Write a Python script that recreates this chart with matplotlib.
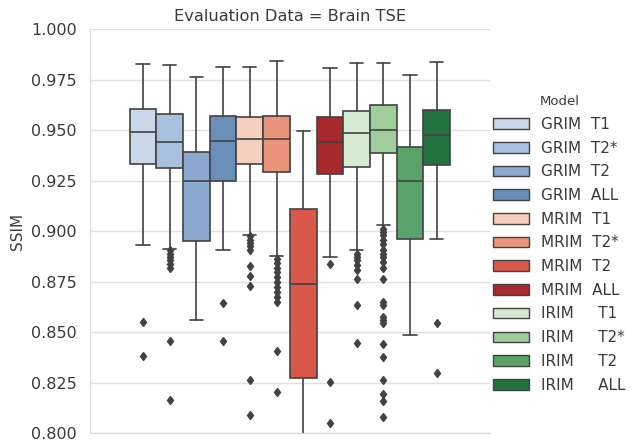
import matplotlib
matplotlib.use("Agg")
import matplotlib.pyplot as plt
from matplotlib.patches import Patch
import seaborn as sns

models = ["GRIM  T1", "GRIM  T2*", "GRIM  T2", "GRIM  ALL",
          "MRIM  T1", "MRIM  T2*", "MRIM  T2", "MRIM  ALL",
          "IRIM     T1", "IRIM     T2*", "IRIM     T2", "IRIM     ALL"]

# box statistics (SSIM)
whislo = [0.8933, 0.8911, 0.8558, 0.8908, 0.8979, 0.8877, 0.7900, 0.8870, 0.8905, 0.9030, 0.8485, 0.8959]
q1 = [0.9331, 0.9314, 0.8949, 0.9248, 0.9331, 0.9291, 0.8274, 0.9281, 0.9319, 0.9385, 0.8961, 0.9329]
med = [0.9492, 0.9440, 0.9248, 0.9446, 0.9454, 0.9454, 0.8738, 0.9441, 0.9486, 0.9502, 0.9246, 0.9478]
q3 = [0.9603, 0.9582, 0.9390, 0.9570, 0.9565, 0.9570, 0.9111, 0.9567, 0.9593, 0.9626, 0.9416, 0.9598]
whishi = [0.9829, 0.9821, 0.9763, 0.9813, 0.9813, 0.9844, 0.9497, 0.9808, 0.9834, 0.9831, 0.9771, 0.9838]
fliers = [
    [0.8548, 0.8380],
    [0.8905, 0.8888, 0.8872, 0.8855, 0.8839, 0.8819, 0.8454, 0.8165],
    [],
    [0.8642, 0.8457],
    [0.8974, 0.8957, 0.8941, 0.8924, 0.8905, 0.8827, 0.8779, 0.8726, 0.8261, 0.8087],
    [0.8863, 0.8842, 0.8819, 0.8797, 0.8772, 0.8748, 0.8723, 0.8698, 0.8673, 0.8649, 0.8408, 0.8203],
    [],
    [0.8838, 0.8252, 0.8051],
    [0.8888, 0.8872, 0.8855, 0.8830, 0.8805, 0.8764, 0.8635, 0.8444],
    [0.9012, 0.8995, 0.8979, 0.8954, 0.8938, 0.8905, 0.8888, 0.8872, 0.8847, 0.8819, 0.8764,
     0.8649, 0.8632, 0.8574, 0.8558, 0.8545, 0.8442, 0.8379, 0.8264, 0.8194, 0.8161, 0.8079],
    [],
    [0.8545, 0.8299],
]

sns.set_style("whitegrid")
plt.rcParams['font.family'] = ['DejaVu Sans']

blues = ["#cad8e9", "#a8c1df", "#8ba9cf", "#6a8fb8"]
reds = [sns.desaturate(c, 0.75) for c in sns.color_palette("Reds", 4)]
greens = [sns.desaturate(c, 0.75) for c in sns.color_palette("Greens", 4)]
colors = blues + reds + greens
gray = "#424242"
text_gray = "#3a3a3a"

stats = []
for i, m in enumerate(models):
    stats.append(dict(label=m, whislo=whislo[i], q1=q1[i], med=med[i], q3=q3[i],
                      whishi=whishi[i], fliers=fliers[i]))

n = len(models)
w = 0.8 / n
positions = [-0.4 + (i + 0.5) * w for i in range(n)]

fig = plt.figure(figsize=(6.37, 4.41), dpi=100)
ax = fig.add_axes([0.141, 0.018, 0.628, 0.916])

bp = ax.bxp(stats, positions=positions, widths=w, patch_artist=True, manage_ticks=False,
            boxprops=dict(edgecolor=gray, linewidth=1.2),
            whiskerprops=dict(color=gray, linewidth=1.2),
            capprops=dict(color=gray, linewidth=1.2),
            medianprops=dict(color=gray, linewidth=1.2),
            flierprops=dict(marker="d", markerfacecolor=gray, markeredgecolor=gray, markersize=4.5))
for patch, c in zip(bp["boxes"], colors):
    patch.set_facecolor(c)

ax.set_xlim(-0.5, 0.5)
ax.set_ylim(0.8, 1.0)
ax.set_yticks([0.8, 0.825, 0.85, 0.875, 0.9, 0.925, 0.95, 0.975, 1.0])
ax.set_yticklabels([f"{v:.3f}" for v in ax.get_yticks()])
ax.set_xticks([])
ax.tick_params(axis="y", labelsize=11.5, colors=text_gray, pad=6)
ax.set_ylabel("SSIM", fontsize=11, color=text_gray)
ax.set_title("Evaluation Data = Brain TSE", fontsize=11.7, color=text_gray)
ax.grid(axis="y", color="#e0e0e0", linewidth=1)
ax.grid(axis="x", visible=False)
for s in ["top", "right"]:
    ax.spines[s].set_visible(False)
for s in ["left", "bottom"]:
    ax.spines[s].set_color("#d8d8d8")

handles = [Patch(facecolor=c, edgecolor=gray, linewidth=1.0, label=m) for c, m in zip(colors, models)]
leg = fig.legend(handles=handles, title="Model", loc="center left", bbox_to_anchor=(0.753, 0.447),
                 frameon=False, fontsize=11, title_fontsize=9.5, handlelength=2.3,
                 labelspacing=0.57, handletextpad=0.8)
for t in leg.get_texts():
    t.set_color(text_gray)
leg.get_title().set_color(text_gray)

fig.savefig("out.png", dpi=100)
